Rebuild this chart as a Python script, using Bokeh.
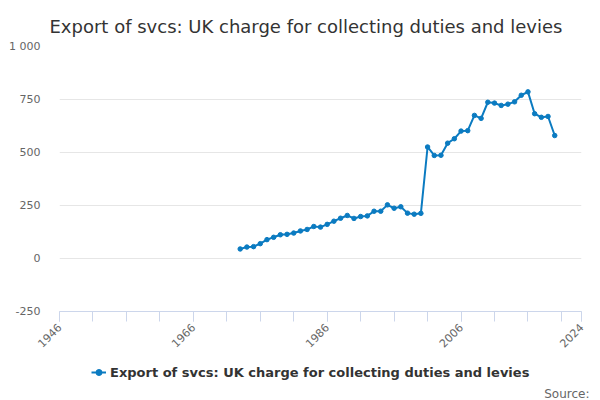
import math
from bokeh.plotting import figure
from bokeh.layouts import column
from bokeh.models import FixedTicker, Range1d, Legend, LegendItem, Title
from bokeh.embed import file_html
from bokeh.resources import INLINE

years = list(range(1973, 2021))
values = [45, 54, 56, 70, 89, 100, 112, 114, 120, 130,
          137, 151, 148, 161, 176, 190, 203, 189, 198, 201,
          223, 223, 253, 237, 244, 214, 209, 213, 526, 486,
          487, 544, 565, 601, 603, 675, 661, 737, 733, 722,
          728, 739, 770, 786, 683, 666, 670, 580]
x_ticks = [1946, 1966, 1986, 2006, 2024]
x_minor_ticks = list(range(1946, 2022, 5)) + [2024]
y_ticks = [-250, 0, 250, 500, 750, 1000]
y_labels = {-250: "-250", 0: "0", 250: "250", 500: "500", 750: "750", 1000: "1 000"}
series_name = "Export of svcs: UK charge for collecting duties and levies"
title_text = "Export of svcs: UK charge for collecting duties and levies"
source_text = "Source:"

FONT = "DejaVu Sans"
COLOR = "#0b7bc1"

p = figure(frame_width=522, frame_height=265, output_backend="svg", toolbar_location=None,
           x_range=Range1d(1946, 2024), y_range=Range1d(-250, 1000),
           min_border_left=59, min_border_right=19, min_border_top=46, min_border_bottom=48)
p.outline_line_color = None
p.background_fill_color = "white"

p.title.text = title_text
p.title.align = "left"
p.title.offset = -10
p.title.standoff = 20
p.title.text_font = FONT
p.title.text_font_size = "18px"
p.title.text_font_style = "normal"
p.title.text_color = "#333333"

xa = p.xaxis[0]
xa.ticker = FixedTicker(ticks=x_ticks, minor_ticks=x_minor_ticks)
xa.major_label_orientation = math.pi / 4
xa.axis_line_color = "#ccd6eb"
xa.major_tick_line_color = "#ccd6eb"
xa.minor_tick_line_color = "#ccd6eb"
xa.major_tick_out = 10
xa.major_tick_in = 0
xa.minor_tick_out = 10
xa.minor_tick_in = 0
xa.major_label_text_font = FONT
xa.major_label_text_font_size = "11px"
xa.major_label_text_color = "#666666"
xa.major_label_standoff = 4
xa.axis_label_standoff = 0
p.xgrid.visible = False

ya = p.yaxis[0]
ya.ticker = FixedTicker(ticks=y_ticks)
ya.axis_line_color = None
ya.major_tick_line_color = None
ya.minor_tick_line_color = None
ya.major_label_overrides = y_labels
ya.major_label_text_font = FONT
ya.major_label_text_font_size = "11px"
ya.major_label_text_color = "#666666"
ya.major_label_standoff = 13
p.ygrid.grid_line_color = "#e6e6e6"

p.line(years, values, line_width=2, color=COLOR)
p.scatter(years, values, size=4.5, color=COLOR, marker="circle")

# second strip: legend and source line (series drawn out of view, only its legend key shows)
p2 = figure(width=600, height=41, output_backend="svg", toolbar_location=None,
            x_range=Range1d(0, 1), y_range=Range1d(0, 1),
            x_axis_location=None, y_axis_location=None,
            min_border_left=0, min_border_right=0, min_border_top=0, min_border_bottom=0)
p2.outline_line_color = None
p2.xgrid.visible = False
p2.ygrid.visible = False
k1 = p2.line(years, values, line_width=2, color=COLOR)
k2 = p2.scatter(years, values, size=3.5, color=COLOR, marker="circle")

legend = Legend(items=[LegendItem(label=series_name, renderers=[k1, k2])],
                orientation="horizontal", location=(32, 2))
legend.label_text_font = FONT
legend.label_text_font_size = "13px"
legend.label_text_font_style = "bold"
legend.label_text_color = "#333333"
legend.glyph_width = 15
legend.label_standoff = 4
legend.border_line_color = None
legend.background_fill_alpha = 0
legend.padding = 0
legend.margin = 0
p2.add_layout(legend)

src = Title(text=source_text, align="right", offset=-8, standoff=0, text_font=FONT,
            text_font_size="12px", text_font_style="normal", text_color="#666666")
p2.add_layout(src, "below")

layout = column(p, p2, spacing=0)
open("out.html", "w").write(file_html(layout, INLINE))
